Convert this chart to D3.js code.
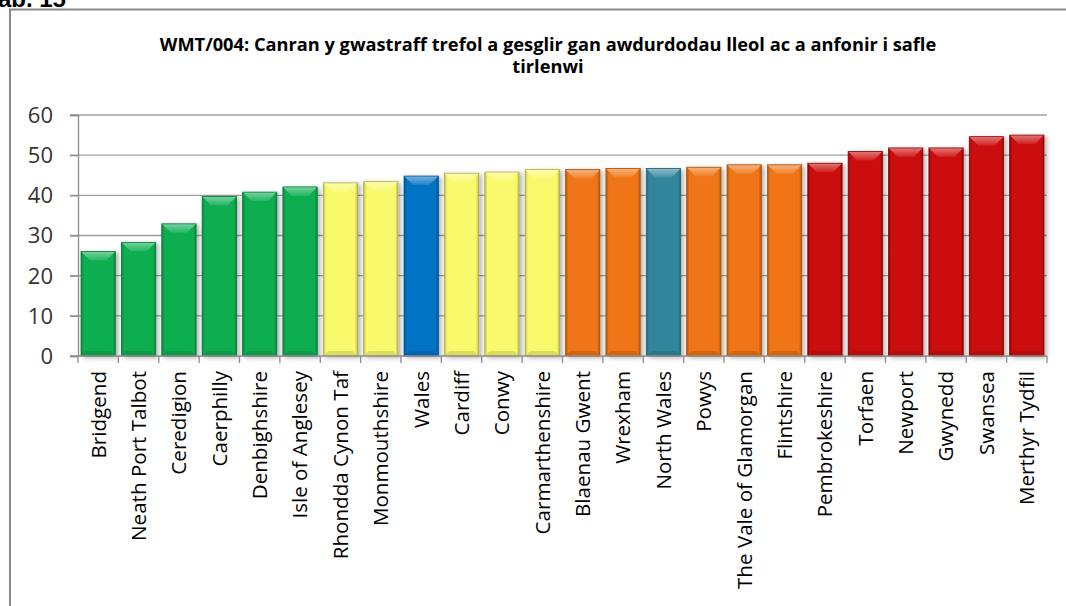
<!DOCTYPE html>
<html>
<head>
<meta charset="utf-8">
<script src="https://cdn.jsdelivr.net/npm/d3@7"></script>
<style>
  html, body { margin: 0; padding: 0; background: #fff; }
  svg { display: block; }
</style>
</head>
<body>
<svg id="chart" width="1066" height="606"></svg>
<script>
// ---- data ----
const categories = [
  "Bridgend", "Neath Port Talbot", "Ceredigion", "Caerphilly", "Denbighshire",
  "Isle of Anglesey", "Rhondda Cynon Taf", "Monmouthshire", "Wales", "Cardiff",
  "Conwy", "Carmarthenshire", "Blaenau Gwent", "Wrexham", "North Wales", "Powys",
  "The Vale of Glamorgan", "Flintshire", "Pembrokeshire", "Torfaen", "Newport",
  "Gwynedd", "Swansea", "Merthyr Tydfil"
];
const values = [
  26.0, 28.3, 32.9, 39.7, 40.8,
  42.1, 43.1, 43.4, 44.8, 45.5,
  45.8, 46.4, 46.4, 46.7, 46.7, 47.0,
  47.6, 47.6, 48.0, 50.9, 51.8,
  51.8, 54.6, 55.0
];
const groups = [
  "q1", "q1", "q1", "q1", "q1",
  "q1", "q2", "q2", "wales", "q2",
  "q2", "q2", "q3", "q3", "north", "q3",
  "q3", "q3", "q4", "q4", "q4",
  "q4", "q4", "q4"
];
const yTicks = [0, 10, 20, 30, 40, 50, 60];
const titleLines = [
  "WMT/004: Canran y gwastraff trefol a gesglir gan awdurdodau lleol ac a anfonir i safle",
  "tirlenwi"
];
const cornerLabel = "Tab. 15";

// ---- styles ----
const groupColor = {
  q1: "#0aae50", q2: "#f9f96c", wales: "#0673c4",
  q3: "#ef7412", north: "#33869c", q4: "#cb0808"
};

const svg = d3.select("#chart");
const plot = { left: 78, right: 1047, top: 115, bottom: 356 };

// frame + corner label (cut off at the top edge, as in the reference)
svg.append("text")
  .attr("x", -15).attr("y", 7)
  .attr("font-family", "Liberation Sans, Arial, sans-serif")
  .attr("font-weight", "bold").attr("font-size", 24)
  .attr("fill", "#000").text(cornerLabel);
svg.append("rect")
  .attr("x", 10).attr("y", 9.5).attr("width", 1070).attr("height", 700)
  .attr("fill", "#fff").attr("stroke", "#8a8a8a").attr("stroke-width", 2);

const x = d3.scaleBand().domain(categories)
  .range([plot.left, plot.right]).paddingInner(0.15).paddingOuter(0.075);
const y = d3.scaleLinear().domain([0, 60]).range([plot.bottom, plot.top]);

const defs = svg.append("defs");
const f = defs.append("filter").attr("id", "shadow")
  .attr("x", "-20%").attr("y", "-10%").attr("width", "150%").attr("height", "130%");
f.append("feDropShadow").attr("dx", 2.5).attr("dy", 1.5).attr("stdDeviation", 2)
  .attr("flood-color", "#000").attr("flood-opacity", 0.3);

Object.entries(groupColor).forEach(([k, c]) => {
  const base = d3.color(c);
  const dark = d3.interpolateRgb(c, "#000")(0.25);
  const g = defs.append("linearGradient").attr("id", "body-" + k)
    .attr("x1", 0).attr("x2", 1).attr("y1", 0).attr("y2", 0);
  g.append("stop").attr("offset", 0).attr("stop-color", dark);
  g.append("stop").attr("offset", 0.08).attr("stop-color", base);
  g.append("stop").attr("offset", 0.92).attr("stop-color", base);
  g.append("stop").attr("offset", 1).attr("stop-color", dark);
  const t = defs.append("linearGradient").attr("id", "top-" + k)
    .attr("x1", 0).attr("x2", 0).attr("y1", 0).attr("y2", 1);
  t.append("stop").attr("offset", 0).attr("stop-color", d3.interpolateRgb(c, "#fff")(0.45));
  t.append("stop").attr("offset", 1).attr("stop-color", d3.interpolateRgb(c, "#fff")(0.1));
});

// gridlines
const grid = svg.append("g");
grid.selectAll("line").data(yTicks.filter(d => d > 0)).join("line")
  .attr("x1", plot.left - 8).attr("x2", plot.right)
  .attr("y1", d => y(d)).attr("y2", d => y(d))
  .attr("stroke", "#a0a0a0").attr("stroke-width", 1.3);

// y axis
const yAxis = svg.append("g").attr("transform", `translate(${plot.left},0)`)
  .call(d3.axisLeft(y).tickValues(yTicks).tickSize(8).tickPadding(17));
yAxis.select(".domain").attr("stroke", "#8c8c8c").attr("stroke-width", 1.3);
yAxis.selectAll(".tick line").attr("stroke", "#8c8c8c").attr("stroke-width", 1.3);
yAxis.selectAll(".tick text")
  .attr("font-family", "Open Sans, sans-serif").attr("font-size", 22)
  .attr("fill", "#333").attr("dy", "0.34em");

// bars
const step = x.step(), bw = x.bandwidth();
const bars = svg.append("g").selectAll("g.bar").data(categories).join("g")
  .attr("class", "bar").attr("filter", "url(#shadow)");
bars.each(function(c, i) {
  const gsel = d3.select(this);
  const x0 = x(c), y0 = y(values[i]), h = y(0) - y0, k = groups[i];
  const col = groupColor[k];
  const bev = 9;
  gsel.append("rect").attr("x", x0).attr("y", y0).attr("width", bw).attr("height", h)
    .attr("fill", `url(#body-${k})`);
  gsel.append("path")
    .attr("d", `M${x0},${y0}H${x0 + bw}L${x0 + bw - bev},${y0 + bev}H${x0 + bev}Z`)
    .attr("fill", `url(#top-${k})`);
  gsel.append("path")
    .attr("d", `M${x0},${y(0)}H${x0 + bw}L${x0 + bw - 5},${y(0) - 5}H${x0 + 5}Z`)
    .attr("fill", d3.interpolateRgb(col, "#000")(0.12));
  gsel.append("rect").attr("x", x0).attr("y", y0).attr("width", bw).attr("height", h)
    .attr("fill", "none").attr("stroke", d3.interpolateRgb(col, "#000")(0.3))
    .attr("stroke-width", 0.8);
});

// x axis line and ticks at band boundaries
const bounds = categories.map(c => x(c) - (step - bw) / 2).concat([plot.right]);
svg.append("line").attr("x1", plot.left - 8).attr("x2", plot.right)
  .attr("y1", plot.bottom).attr("y2", plot.bottom)
  .attr("stroke", "#8c8c8c").attr("stroke-width", 1.3);
svg.append("g").selectAll("line").data(bounds).join("line")
  .attr("x1", d => d).attr("x2", d => d)
  .attr("y1", plot.bottom).attr("y2", plot.bottom + 7)
  .attr("stroke", "#8c8c8c").attr("stroke-width", 1.3);

// x labels (rotated)
const xl = svg.append("g").selectAll("text").data(categories).join("text")
  .attr("transform", c => `translate(${x(c) + bw / 2},${plot.bottom + 15}) rotate(-90)`)
  .attr("text-anchor", "end").attr("dy", "0.36em")
  .attr("font-family", "Open Sans, sans-serif").attr("font-size", 20)
  .attr("fill", "#000").text(c => c);
{
  const ref = xl.filter(c => c === "Neath Port Talbot").node();
  const k = 170 / ref.getComputedTextLength();
  xl.attr("font-size", 20 * k);
}

// title
const tt = svg.append("g").selectAll("text").data(titleLines).join("text")
  .attr("x", 548).attr("y", (d, i) => 51 + i * 22)
  .attr("text-anchor", "middle")
  .attr("font-family", "Open Sans, sans-serif").attr("font-weight", "bold")
  .attr("font-size", 16).attr("fill", "#000").text(d => d);
{
  const ref = tt.filter((d, i) => i === 0).node();
  const k = 777 / ref.getComputedTextLength();
  tt.attr("font-size", 16 * k);
}
</script>
</body>
</html>
